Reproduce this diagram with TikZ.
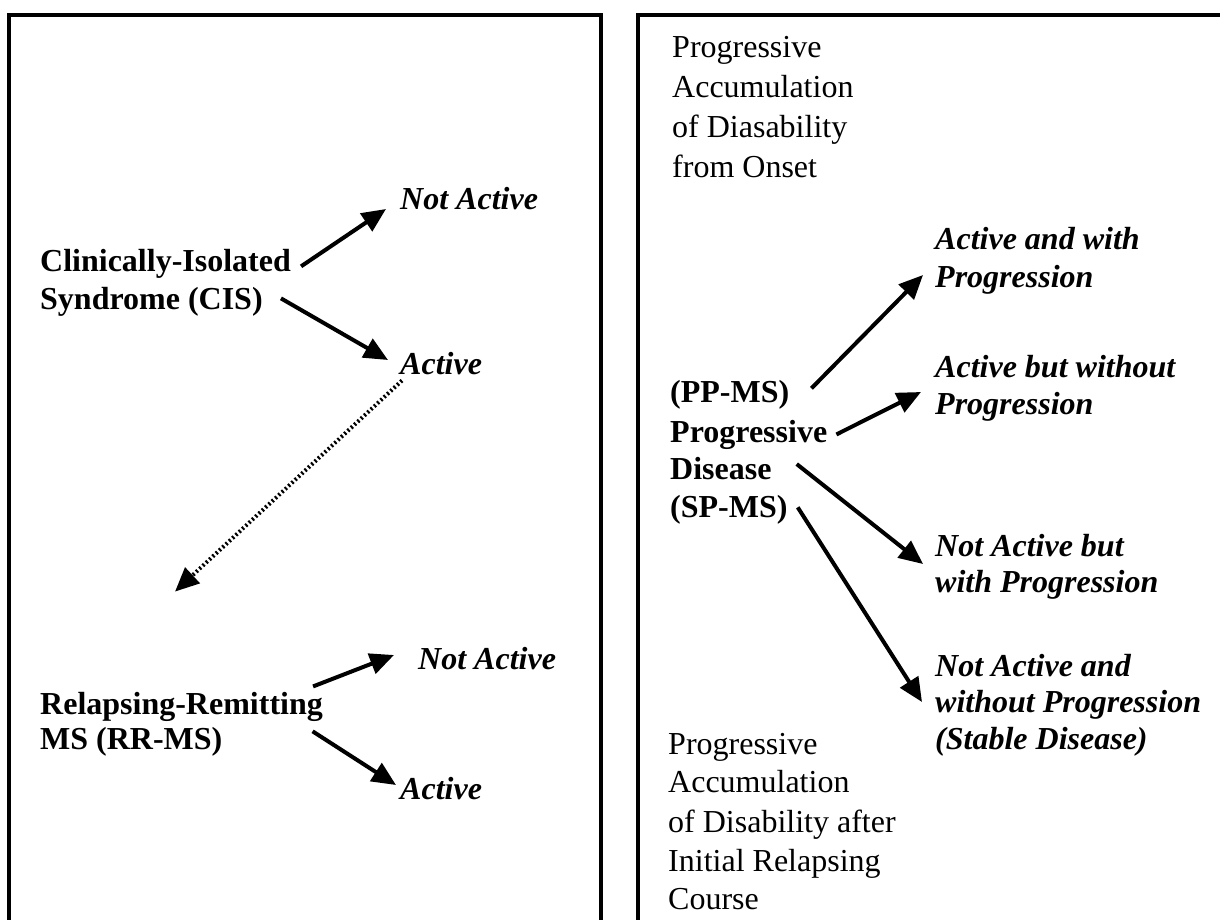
\documentclass[tikz,border=0pt]{standalone}
\usepackage{fontspec}
\setmainfont{Liberation Serif}
\usetikzlibrary{arrows.meta,calc}
\begin{document}
\begin{tikzpicture}[x=1pt,y=-1pt,
  every node/.style={inner sep=0pt, anchor=base west},
  bl/.style={font=\fontsize{32}{38}\selectfont\bfseries},
  lab/.style={font=\fontsize{32}{38}\selectfont\bfseries\itshape},
  plain/.style={font=\fontsize{32}{38}\selectfont},
  arr/.style={line width=4pt, -{Triangle[length=24pt,width=21pt]}},
  darr/.style={line width=4pt, dash pattern=on 2pt off 2.5pt, -{Triangle[length=24pt,width=21pt]}},
  frame/.style={line width=4pt}]
\useasboundingbox (0,0) rectangle (1220,919);
\fill[white] (0,0) rectangle (1220,919);
\draw[frame] (8.5,930) -- (8.5,14.5) -- (600.5,14.5) -- (600.5,930);
\draw[frame] (638,930) -- (638,14.5) -- (1230,14.5);
% left panel
\node[bl] (cis1) at (40,271) {Clinically-Isolated};
\node[bl] (cis2) at (40,309) {Syndrome (CIS)};
\node[lab] (na1) at (400,209) {Not Active};
\node[lab] (a1) at (400,374) {Active};
\node[bl] (rr1) at (40,714) {Relapsing-Remitting};
\node[bl] (rr2) at (40,749) {MS (RR-MS)};
\node[lab] (na2) at (418,669) {Not Active};
\node[lab] (a2) at (400,799) {Active};
\draw[arr] ($(cis1.east)+(10,3)$) -- ($(na1.base west)+(-14,0)$);
\draw[arr] ($(cis2.east)+(18,-3)$) -- ($(a1.base west)+(-12,-14)$);
\draw[darr] ($(a1.south west)+(2,6)$) -- ($(rr1.north west)+(135,-100)$);
\draw[arr] ($(rr1.east)+(-10,-20)$) -- ($(na2.base west)+(-24,-14)$);
\draw[arr] ($(rr2.east)+(90,-10)$) -- ($(a2.base west)+(-4,-14)$);
% right panel
\node[plain] (t1) at (672,57) {Progressive};
\node[plain] (t2) at (672,97) {Accumulation};
\node[plain] (t3) at (672,137) {of Diasability};
\node[plain] (t4) at (672,177) {from Onset};
\node[bl] (p1) at (670,402) {(PP-MS)};
\node[bl] (p2) at (670,442) {Progressive};
\node[bl] (p3) at (670,479) {Disease};
\node[bl] (p4) at (670,517) {(SP-MS)};
\node[lab] (l1a) at (935,249) {Active and with};
\node[lab] (l1b) at (935,287) {Progression};
\node[lab] (l2a) at (935,377) {Active but without};
\node[lab] (l2b) at (935,414) {Progression};
\node[lab] (l3a) at (935,556) {Not Active but};
\node[lab] (l3b) at (935,592) {with Progression};
\node[lab] (l4a) at (935,676) {Not Active and};
\node[lab] (l4b) at (935,712) {without Progression};
\node[lab] (l4c) at (935,749) {(Stable Disease)};
\node[plain] (b1) at (668,754) {Progressive};
\node[plain] (b2) at (668,792) {Accumulation};
\node[plain] (b3) at (668,832) {of Disability after};
\node[plain] (b4) at (668,871) {Initial Relapsing};
\node[plain] (b5) at (668,909) {Course};
\draw[arr] ($(p1.east)+(22,-6)$) -- ($(l1b.base west)+(-12,-12)$);
\draw[arr] ($(p2.east)+(9,0)$) -- ($(l2a.base west)+(-14,15)$);
\draw[arr] ($(p3.east)+(25,-4)$) -- ($(l3a.base west)+(-12,8)$);
\draw[arr] ($(p4.east)+(10,-2)$) -- ($(l4b.base west)+(-13,-10)$);
\end{tikzpicture}
\end{document}
